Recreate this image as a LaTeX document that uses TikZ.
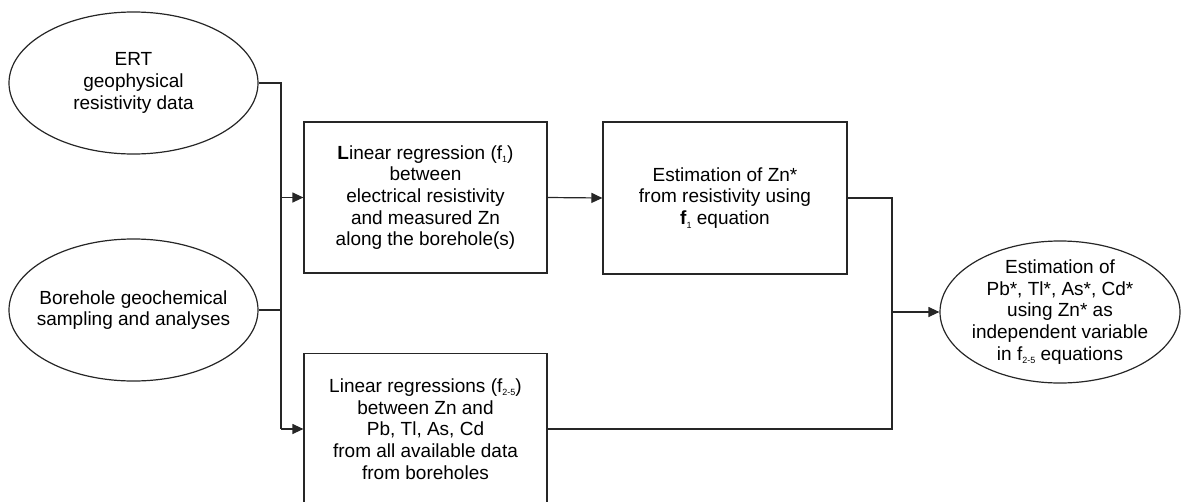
\documentclass[tikz,border=0pt]{standalone}
\usepackage{fontspec}
\setmainfont{Liberation Sans}
\usetikzlibrary{arrows.meta,shapes.geometric}
\newcommand{\sbs}[1]{\raisebox{-0.35ex}{\fontsize{9}{9}\selectfont #1}}
\tikzset{
  base/.style={draw=black!85, line width=1.2pt, align=center, inner sep=0pt,
    font=\fontsize{19}{21.7}\selectfont, text=black},
  oval/.style={base, ellipse, inner sep=-30pt, minimum width=249pt, minimum height=142pt},
  boxn/.style={base, rectangle, minimum width=243pt, minimum height=151pt},
  wire/.style={draw=black!85, line width=1.2pt},
  arr/.style={wire, -{Triangle[length=11pt,width=10pt]}}
}
\begin{document}
\begin{tikzpicture}[x=1pt,y=-1pt]
\useasboundingbox (0,0) rectangle (1184,501);
\node[oval] (ert) at (133.5,83) {ERT\\geophysical\\resistivity data};
\node[oval] (bore) at (133.5,310) {Borehole geochemical\\sampling and analyses};
\node[boxn] (lr1) at (425.5,197.5) {\textbf{L}inear regression (f\sbs{1})\\between\\electrical resistivity\\and measured Zn\\along the borehole(s)};
\node[boxn] (lr2) at (425.5,429) {Linear regressions (f\sbs{2-5})\\between Zn and\\Pb, Tl, As, Cd\\from all available data\\from boreholes};
\node[boxn, minimum width=244pt, minimum height=152pt] (est) at (725,198) {Estimation of Zn*\\from resistivity using\\\textbf{f}\sbs{1} equation};
\node[oval, minimum width=240pt, minimum height=142pt] (fin) at (1060,312) {Estimation of\\Pb*, Tl*, As*, Cd*\\using Zn* as\\independent variable\\in f\sbs{2-5} equations};
\coordinate (bus1) at (281,0);
\coordinate (bus2) at (892,0);
\draw[wire] (ert.east) -- (ert.east -| bus1) -- (lr2.west -| bus1);
\draw[wire] (bore.east) -- (bore.east -| bus1);
\draw[arr] (lr1.west -| bus1) -- (lr1.west);
\draw[arr] (lr2.west -| bus1) -- (lr2.west);
\draw[arr] (lr1.east) -- (est.west);
\draw[wire] (est.east) -- (est.east -| bus2) -- (lr2.east -| bus2) -- (lr2.east);
\draw[arr] (fin.west -| bus2) -- (fin.west);
\end{tikzpicture}
\end{document}
